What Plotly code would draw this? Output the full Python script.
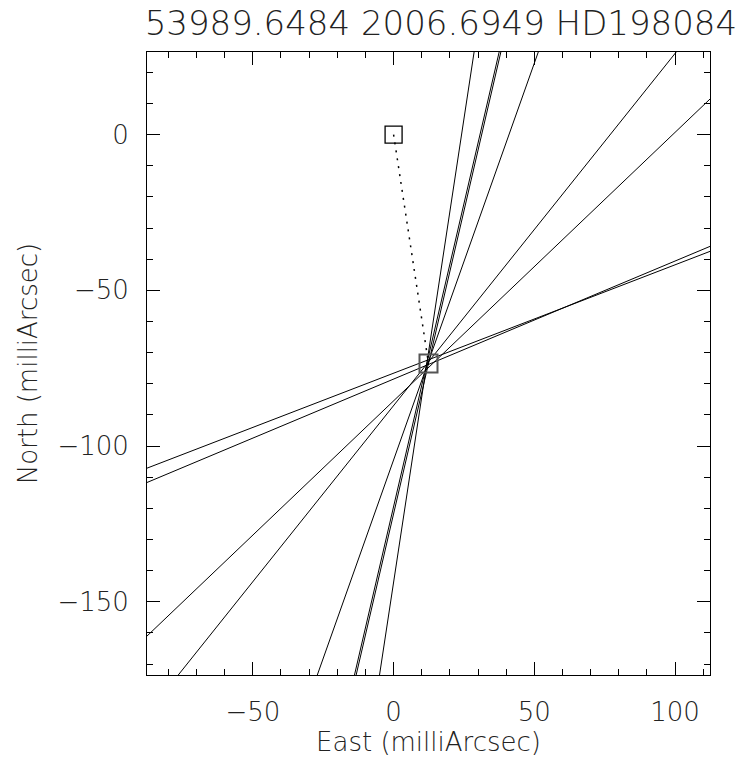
import plotly.graph_objects as go

# Constraint lines (endpoints, milliarcsec)
line_x0 = [-5.0, -13.9, -13.3, -27.1, -76.5, -87.6, -87.6, -87.6]
line_y0 = [-173.5, -173.5, -173.5, -173.5, -173.5, -161.0, -107.1, -111.7]
line_x1 = [28.6, 37.5, 38.1, 51.4, 100.4, 112.4, 112.4, 112.4]
line_y1 = [26.5, 26.5, 26.5, 26.5, 26.5, 11.4, -37.5, -35.9]

primary_x, primary_y = 0.0, 0.0
companion_x, companion_y = 12.4, -73.5

title_text = "53989.6484 2006.6949 HD198084"
x_title = "East (milliArcsec)"
y_title = "North (milliArcsec)"
x_ticks = [-50, 0, 50, 100]
y_ticks = [-150, -100, -50, 0]

half = 100.0
xr = [companion_x - half, companion_x + half]
yr = [companion_y - half, companion_y + half]

FONT = "DejaVu Sans"

fig = go.Figure()
for a, b, c, d in zip(line_x0, line_y0, line_x1, line_y1):
    fig.add_trace(go.Scatter(x=[a, c], y=[b, d], mode="lines",
                             line=dict(color="black", width=1), showlegend=False))

fig.add_trace(go.Scatter(x=[primary_x, companion_x], y=[primary_y, companion_y],
                         mode="lines", line=dict(color="black", width=1.5, dash="2px,6px"),
                         showlegend=False))
fig.add_trace(go.Scatter(x=[primary_x], y=[primary_y], mode="markers",
                         marker=dict(symbol="square-open", size=17, color="black",
                                     line=dict(width=1.3, color="black")),
                         showlegend=False))
fig.add_trace(go.Scatter(x=[companion_x], y=[companion_y], mode="markers",
                         marker=dict(symbol="square-open", size=18, color="#555555",
                                     line=dict(width=2, color="#555555")),
                         showlegend=False))

axis_common = dict(
    showgrid=False, zeroline=False, showline=True, linecolor="black", linewidth=1,
    mirror="ticks", ticks="inside", ticklen=13, tickwidth=1, tickcolor="black",
    automargin=False,
    tickfont=dict(family=FONT, size=26, color="#222222", weight=200),
    minor=dict(ticks="inside", ticklen=6, tickwidth=1, tickcolor="black", dtick=10),
)

fig.update_layout(
    width=741, height=757,
    margin=dict(l=147, r=31, t=52, b=82),
    paper_bgcolor="white", plot_bgcolor="white",
    title=dict(text=title_text, x=0.595, xanchor="center", y=0.969, yanchor="middle",
               font=dict(family=FONT, size=34, color="#222222", weight=200)),
    xaxis=dict(range=xr, tickvals=x_ticks, ticklabelstandoff=14,
               title=dict(text=x_title, standoff=4,
                          font=dict(family=FONT, size=26, color="#222222", weight=200)),
               **axis_common),
    yaxis=dict(range=yr, tickvals=y_ticks, ticklabelstandoff=12,
               title=dict(text=y_title, standoff=12,
                          font=dict(family=FONT, size=26, color="#222222", weight=200)),
               **axis_common),
)

fig.write_html("out.html")
